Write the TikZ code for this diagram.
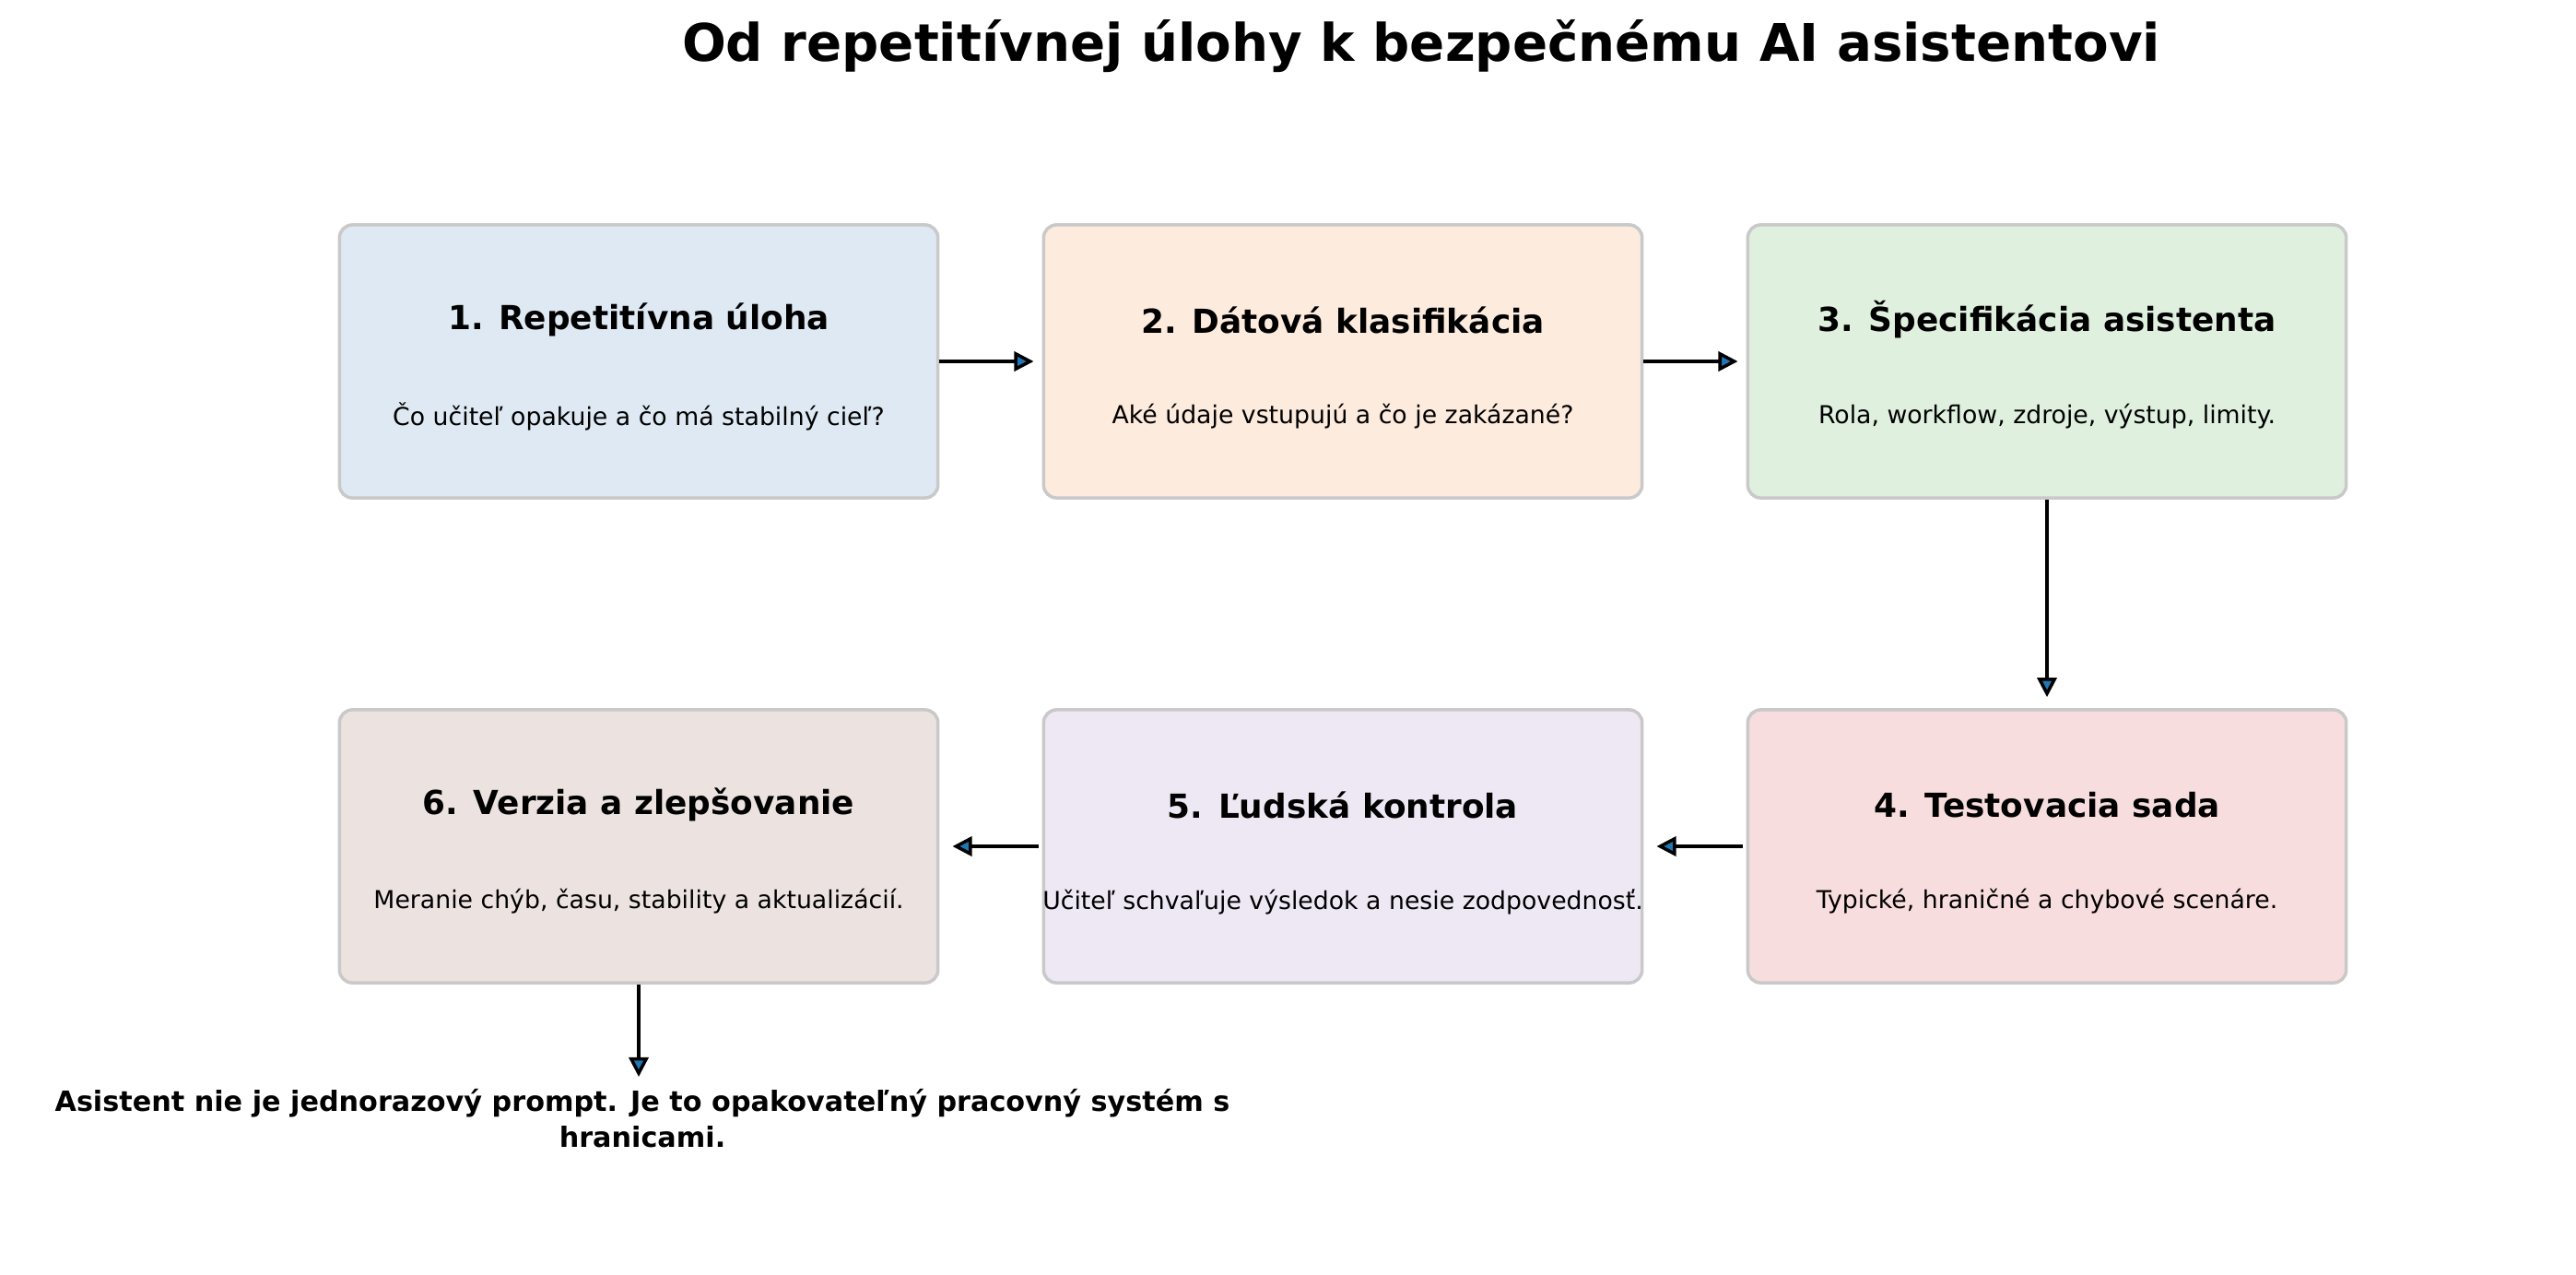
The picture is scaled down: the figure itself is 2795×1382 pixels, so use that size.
\documentclass[tikz,border=0pt]{standalone}
\usepackage{fontspec}
\setmainfont{DejaVu Sans}
\usetikzlibrary{positioning,arrows.meta}
\definecolor{col_b1}{HTML}{DEE9F3}
\definecolor{col_b2}{HTML}{FDEBDD}
\definecolor{col_b3}{HTML}{DFF0DF}
\definecolor{col_b4}{HTML}{F8DDDE}
\definecolor{col_b5}{HTML}{EEE8F4}
\definecolor{col_b6}{HTML}{ECE3E1}
\definecolor{col_edge}{HTML}{C9C9C9}
\definecolor{col_tip}{HTML}{1F77B4}
\tikzset{
  stage/.style={draw=col_edge, line width=1pt, rounded corners=4pt,
    minimum width=6.49cm, minimum height=2.96cm, inner sep=0pt},
  head/.style={font=\bfseries\fontsize{10.2}{12}\selectfont},
  sub/.style={font=\fontsize{7.6}{9}\selectfont},
  flow/.style={line width=1pt, -{Triangle[length=6pt,width=6pt,fill=col_tip]}}
}
\begin{document}
\begin{tikzpicture}[x=0.01cm,y=-0.01cm]
\useasboundingbox (0,0) rectangle (2795,1382);
%
\node[font=\bfseries\fontsize{16}{19}\selectfont] (title) at (1542,50) {Od repetitívnej úlohy k bezpečnému AI asistentovi};
%
\node[stage, fill=col_b1] (s1) at (693,392) {};
\node[stage, fill=col_b2] (s2) at (1457,392) {};
\node[stage, fill=col_b3] (s3) at (2221,392) {};
\node[stage, fill=col_b4] (s4) at (2221,918) {};
\node[stage, fill=col_b5] (s5) at (1457,918) {};
\node[stage, fill=col_b6] (s6) at (693,918) {};
%
\foreach \n/\h/\s in {
  s1/{1. Repetitívna úloha}/{Čo učiteľ opakuje a čo má stabilný cieľ?},
  s2/{2. Dátová klasifikácia}/{Aké údaje vstupujú a čo je zakázané?},
  s3/{3. Špecifikácia asistenta}/{Rola, workflow, zdroje, výstup, limity.},
  s4/{4. Testovacia sada}/{Typické, hraničné a chybové scenáre.},
  s5/{5. Ľudská kontrola}/{Učiteľ schvaľuje výsledok a nesie zodpovednosť.},
  s6/{6. Verzia a zlepšovanie}/{Meranie chýb, času, stability a aktualizácií.}}{
  \node[head] (\n-h) at ([yshift=0.45cm]\n.center) {\h};
  \node[sub] (\n-s) at ([yshift=-0.6cm]\n.center) {\s};
}
%
\node[font=\bfseries\fontsize{8.6}{11}\selectfont, align=center] (note) at (697,1213)
  {Asistent nie je jednorazový prompt. Je to opakovateľný pracovný systém s\\hranicami.};
\coordinate (end) at (693,1168);
%
\draw[flow] (s1.east) -- ([xshift=-0.09cm]s2.west);
\draw[flow] (s2.east) -- ([xshift=-0.09cm]s3.west);
\draw[flow] (s3.south) -- ([yshift=0.12cm]s4.north);
\draw[flow] ([xshift=-0.04cm]s4.west) -- ([xshift=0.14cm]s5.east);
\draw[flow] ([xshift=-0.04cm]s5.west) -- ([xshift=0.14cm]s6.east);
\draw[flow] (s6.south) -- (end);
\end{tikzpicture}
\end{document}
